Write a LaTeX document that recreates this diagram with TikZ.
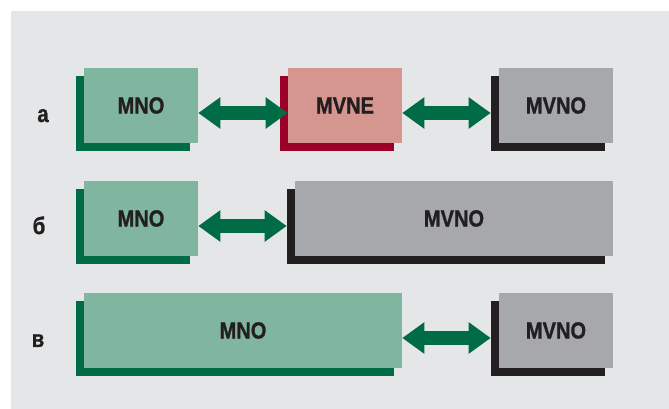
\documentclass[tikz,border=0pt]{standalone}
\usepackage{graphicx}
\usepackage{fontspec}
\setmainfont{Liberation Sans}
\newfontfamily\heavyfont{Liberation Sans}[UprightFont=*, BoldFont=* Bold, BoldFeatures={FakeBold=1.2}]
\usetikzlibrary{arrows.meta,calc}
\definecolor{bg}{HTML}{E5E6E8}
\definecolor{lgreen}{HTML}{80B5A0}
\definecolor{dgreen}{HTML}{006C45}
\definecolor{lpink}{HTML}{D4968F}
\definecolor{dred}{HTML}{9A0028}
\definecolor{lgray}{HTML}{A7A8AB}
\definecolor{ink}{HTML}{231F20}
\newcommand\sqz[1]{\scalebox{0.86}[1]{#1}}
\newcommand\sqzl[1]{\scalebox{0.85}[1]{#1}}
\begin{document}
\begin{tikzpicture}[x=0.75pt,y=-0.75pt,
  face/.style={minimum height=56.25pt, minimum width=85.5pt, inner sep=0pt,
    font=\heavyfont\bfseries\fontsize{17.5pt}{17.5pt}\selectfont, text=ink},
  wide/.style={minimum width=238.5pt},
  rowlabel/.style={anchor=base, inner sep=0pt, text=ink,
    font=\heavyfont\bfseries\fontsize{18pt}{18pt}\selectfont},
  biarrow/.style={draw=dgreen, line width=10.5pt,
    {Triangle[length=16.5pt,width=22.5pt]}-{Triangle[length=16.5pt,width=22.5pt]}},
  shadowbox/.style={fill=#1}
]
\useasboundingbox (0,0) rectangle (669,409);
\fill[bg] (11,11) rectangle (669,409);

% box frames (named nodes)
\path
  node[face] (mnoA)  at (141,105.5) {}
  node[face] (mvneA) at (345,105.5) {}
  node[face] (mvnoA) at (556,105.5) {}
  node[face] (mnoB)  at (141,218.5) {}
  node[face,wide] (mvnoB) at (454,218.5) {}
  node[face,wide] (mnoC)  at (243,330.5) {}
  node[face] (mvnoC) at (556,330.5) {};

% shadows
\foreach \n/\c in {mnoA/dgreen, mvneA/dred, mvnoA/ink, mnoB/dgreen, mvnoB/ink, mnoC/dgreen, mvnoC/ink}
  \fill[shadowbox=\c] ($(\n.south west)+(-8,8)$) rectangle ($(\n.north east)+(-8,8)$);

% faces
\foreach \n/\c/\t in {mnoA/lgreen/MNO, mvneA/lpink/MVNE, mvnoA/lgray/MVNO, mnoB/lgreen/MNO, mvnoB/lgray/MVNO, mnoC/lgreen/MNO, mvnoC/lgray/MVNO}{
  \fill[\c] (\n.south west) rectangle (\n.north east);
  \node[face, text=ink] at (\n.center) {\sqz{\t}};
}

% arrows
\draw[biarrow] ($(mnoA.east)+(0,7.5)$) -- ($(mvneA.west)+(0,7.5)$);
\draw[biarrow] ($(mvneA.east)+(0,7.5)$) -- ($(mvnoA.west)+(-8,7.5)$);
\draw[biarrow] ($(mnoB.east)+(0,7.5)$) -- ($(mvnoB.west)+(-8,7.5)$);
\draw[biarrow] ($(mnoC.east)+(0,7.5)$) -- ($(mvnoC.west)+(-8,7.5)$);

% row labels
\node[rowlabel] (la) at (43,122) {\sqzl{а}};
\node[rowlabel] (lb) at (39,234) {\sqzl{б}};
\node[rowlabel] (lc) at (38,347) {\sqzl{в}};
\end{tikzpicture}
\end{document}
